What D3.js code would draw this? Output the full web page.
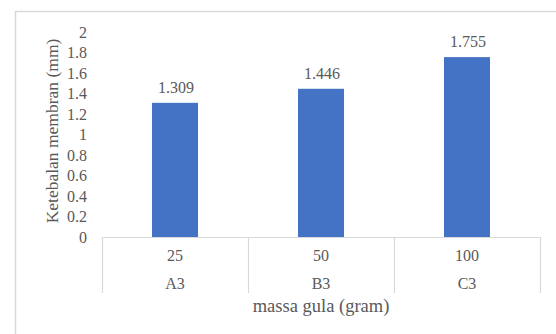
<!DOCTYPE html>
<html>
<head>
<meta charset="utf-8">
<script src="https://cdn.jsdelivr.net/npm/d3@7"></script>
<style>
  html, body { margin: 0; padding: 0; background: #fff; }
  svg { display: block; }
</style>
</head>
<body>
<svg id="chart" width="556" height="334"></svg>
<script>
// Membrane thickness by sugar mass
const massLabels = ["25", "50", "100"];
const sampleCodes = ["A3", "B3", "C3"];
const thickness = [1.309, 1.446, 1.755];
const yTicks = [0, 0.2, 0.4, 0.6, 0.8, 1, 1.2, 1.4, 1.6, 1.8, 2];

const svg = d3.select("#chart");
const W = 556, H = 334;
const serif = "'Liberation Serif', 'Times New Roman', serif";
const textColor = "#595959";

// chart frame (only top and left edges fall inside the view)
svg.append("rect")
  .attr("x", 15.5).attr("y", 11.5)
  .attr("width", W + 10).attr("height", H + 10)
  .attr("fill", "none").attr("stroke", "#d9d9d9").attr("stroke-width", 1.5);

const plot = { left: 102, right: 540, top: 32, bottom: 237 };

const x = d3.scaleBand()
  .domain(d3.range(thickness.length))
  .range([plot.left, plot.right])
  .paddingInner(0).paddingOuter(0);

const y = d3.scaleLinear().domain([0, 2]).range([plot.bottom, plot.top]);

const barW = x.bandwidth() * 0.315;

// bars
svg.append("g").selectAll("rect")
  .data(thickness)
  .join("rect")
  .attr("x", (d, i) => x(i) + (x.bandwidth() - barW) / 2)
  .attr("y", d => y(d))
  .attr("width", barW)
  .attr("height", d => y(0) - y(d))
  .attr("fill", "#4472c4");

// value labels
svg.append("g").selectAll("text")
  .data(thickness)
  .join("text")
  .attr("x", (d, i) => x(i) + x.bandwidth() / 2 + 1)
  .attr("y", d => y(d) - 10)
  .attr("text-anchor", "middle")
  .style("font-size", "16px")
  .text(d => d3.format(".3f")(d));

// y axis tick labels (no axis line)
const yAxis = d3.axisLeft(y).tickValues(yTicks).tickSize(0).tickPadding(0)
  .tickFormat(d => String(d));
const yg = svg.append("g").attr("transform", `translate(${plot.left - 15},0)`).call(yAxis);
yg.select(".domain").remove();
yg.selectAll("text").style("font-size", "16px");

// category axis: baseline and group dividers
const axisColor = "#d9d9d9";
svg.append("line")
  .attr("x1", plot.left).attr("x2", plot.right)
  .attr("y1", plot.bottom + 0.5).attr("y2", plot.bottom + 0.5)
  .attr("stroke", axisColor).attr("stroke-width", 1.2);

const dividers = d3.range(thickness.length + 1).map(i => i < thickness.length ? x(i) : x(i - 1) + x.bandwidth());
svg.append("g").selectAll("line")
  .data(dividers)
  .join("line")
  .attr("x1", d => d + 0.5).attr("x2", d => d + 0.5)
  .attr("y1", plot.bottom).attr("y2", plot.bottom + 56)
  .attr("stroke", axisColor).attr("stroke-width", 1.2);

// category labels: mass row, then sample code row
svg.append("g").selectAll("text")
  .data(massLabels)
  .join("text")
  .attr("x", (d, i) => x(i) + x.bandwidth() / 2)
  .attr("y", plot.bottom + 24)
  .attr("text-anchor", "middle")
  .style("font-size", "16px")
  .text(d => d);

svg.append("g").selectAll("text")
  .data(sampleCodes)
  .join("text")
  .attr("x", (d, i) => x(i) + x.bandwidth() / 2)
  .attr("y", plot.bottom + 52)
  .attr("text-anchor", "middle")
  .style("font-size", "16px")
  .text(d => d);

// axis titles
svg.append("text")
  .attr("x", (plot.left + plot.right) / 2)
  .attr("y", 312)
  .attr("text-anchor", "middle")
  .style("font-size", "18.5px")
  .text("massa gula (gram)");

svg.append("text")
  .attr("transform", `translate(58,131) rotate(-90)`)
  .attr("text-anchor", "middle")
  .style("font-size", "17.5px")
  .text("Ketebalan membran (mm)");

// shared typography for every label
svg.selectAll("text")
  .style("font-family", serif)
  .style("fill", textColor);
</script>
</body>
</html>
